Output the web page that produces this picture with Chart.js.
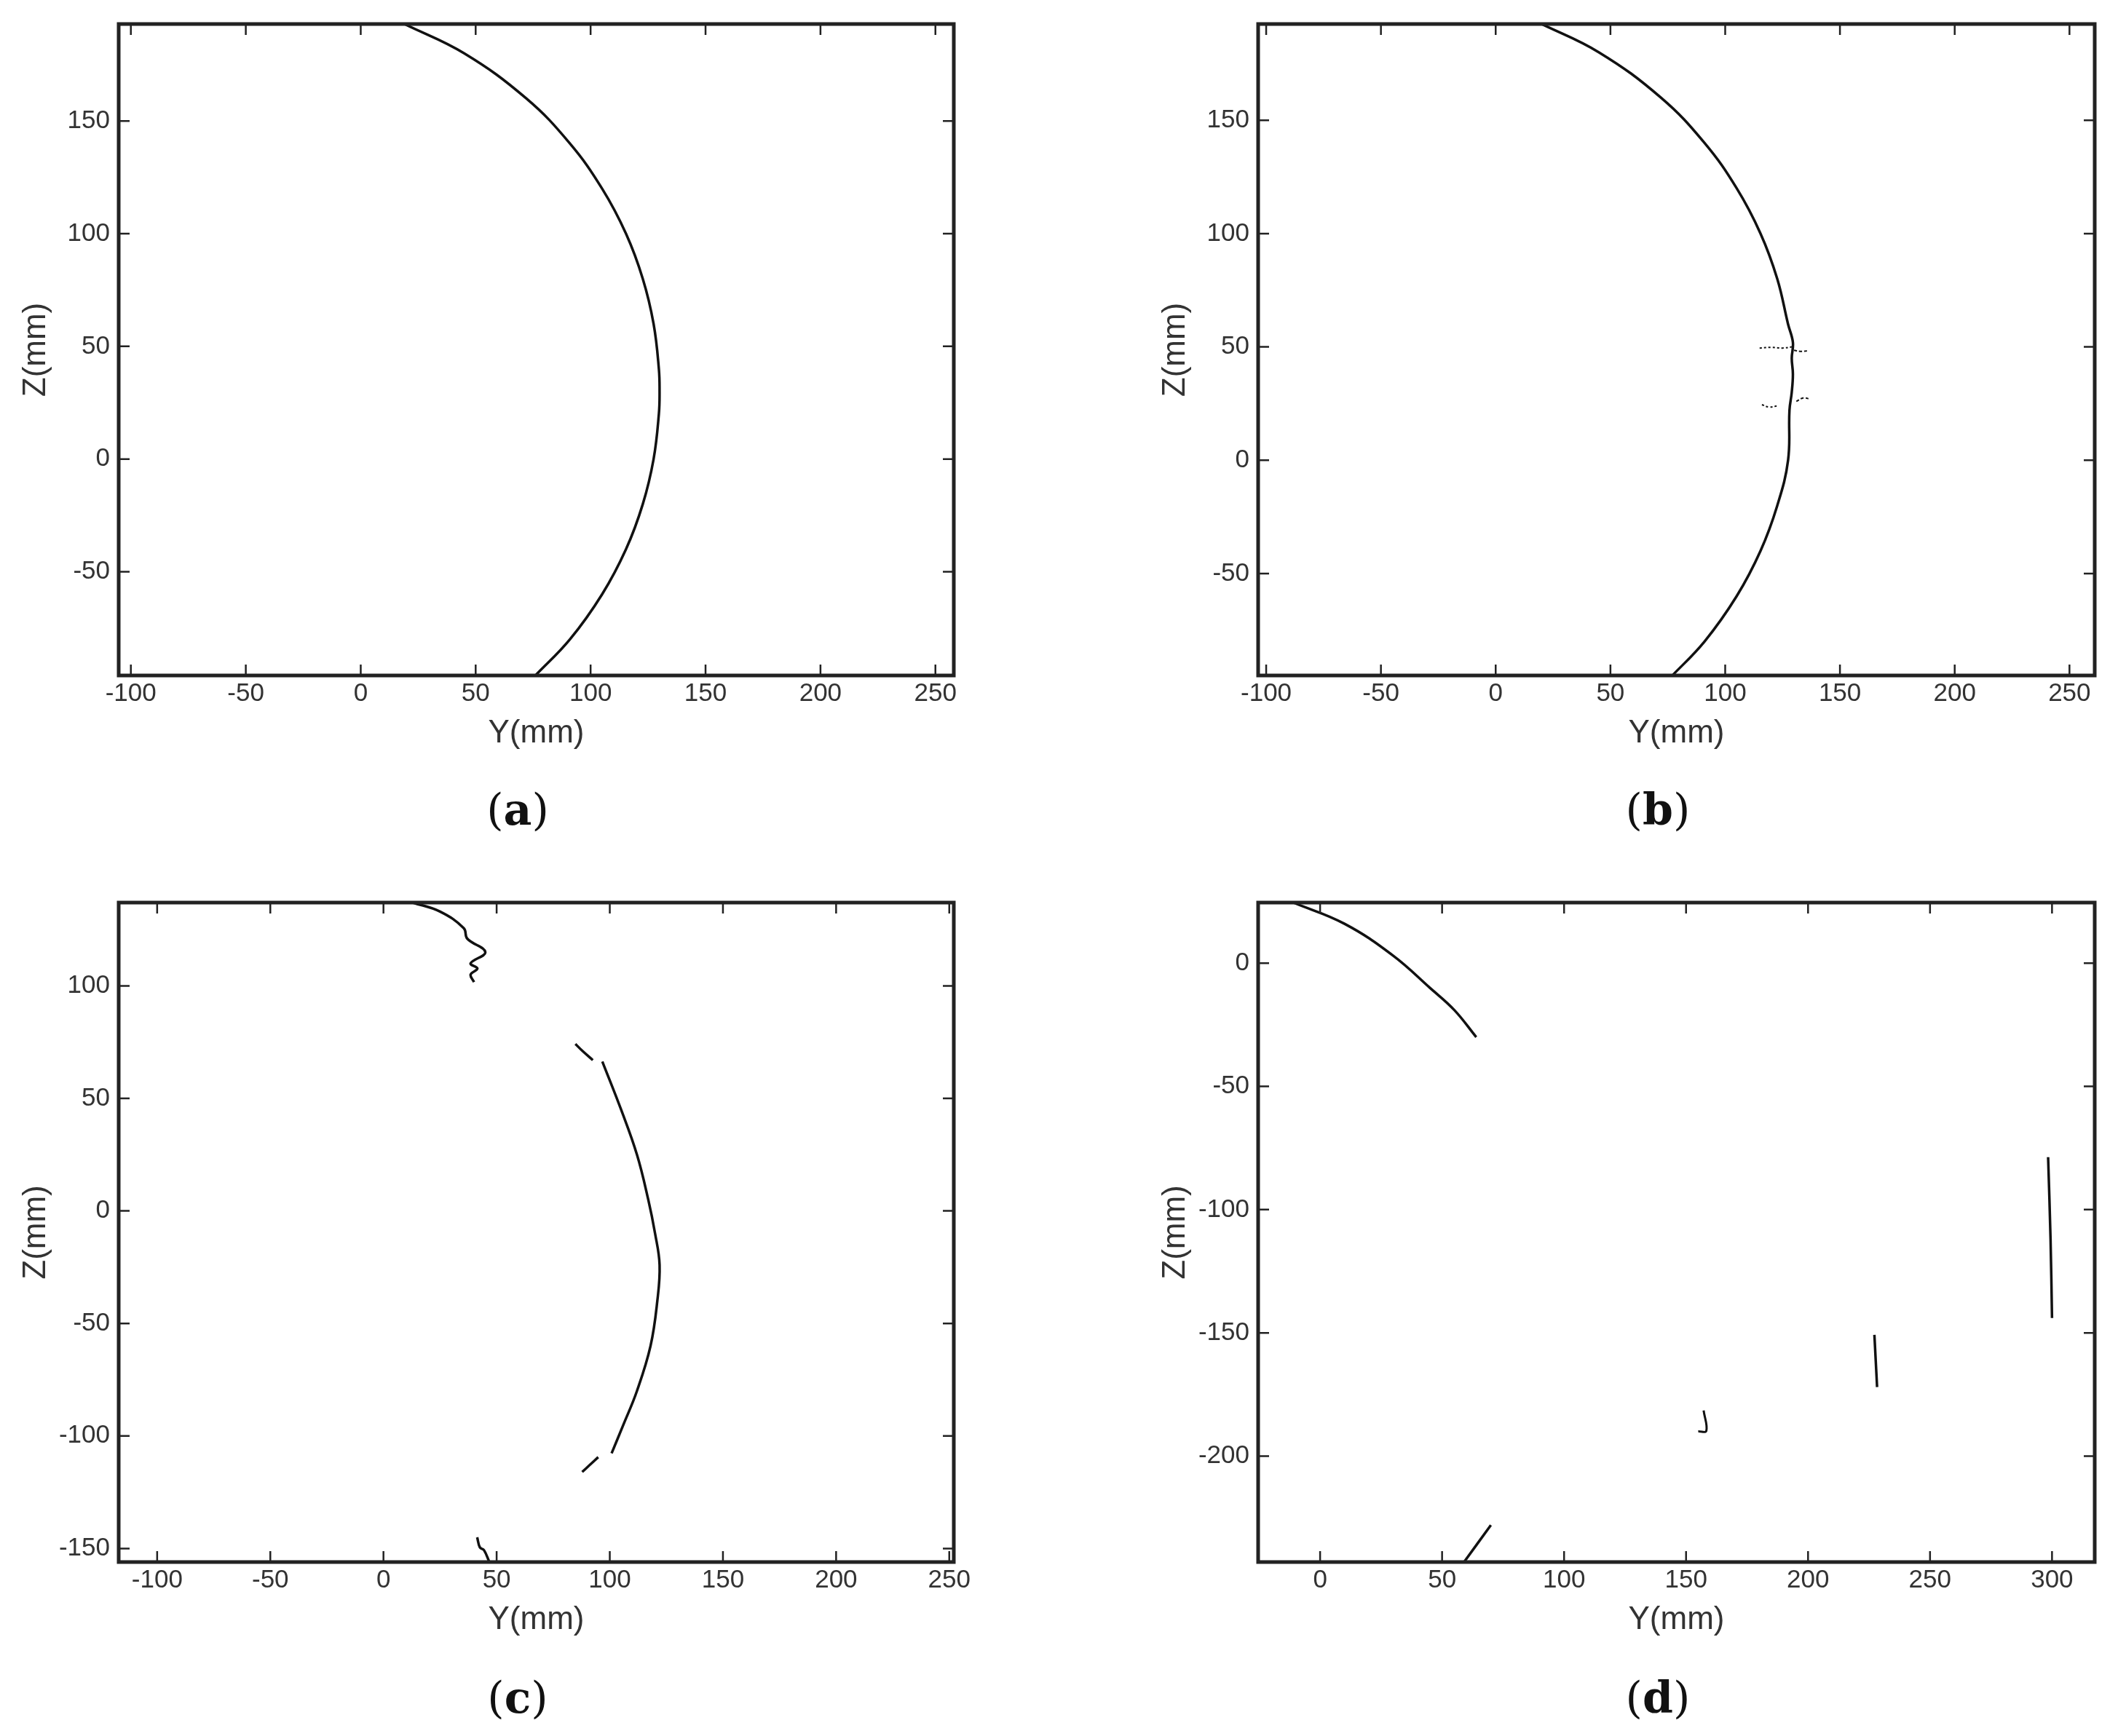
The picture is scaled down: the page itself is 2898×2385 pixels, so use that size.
<!DOCTYPE html>
<html>
<head>
<meta charset="utf-8">
<script src="https://cdn.jsdelivr.net/npm/chart.js@4.4.1/dist/chart.umd.min.js"></script>
<style>
  body { margin: 0; background: #fff; width: 2898px; height: 2385px; position: relative; overflow: hidden; }
  .quad { position: absolute; width: 1449px; height: 1192px; }
  .cap { position: absolute; font-family: "DejaVu Serif", "Liberation Serif", serif; font-size: 60px; color: #111; transform: translate(-50%, -50%); }
  .cap b { font-weight: bold; }
</style>
</head>
<body>
<div class="quad" style="left:0;top:0"><canvas id="pa"></canvas></div>
<div class="quad" style="left:1449px;top:0"><canvas id="pb"></canvas></div>
<div class="quad" style="left:0;top:1192px"><canvas id="pc"></canvas></div>
<div class="quad" style="left:1449px;top:1192px"><canvas id="pd"></canvas></div>
<div class="cap" style="left:711px;top:1112px">(<b>a</b>)</div>
<div class="cap" style="left:2277px;top:1112px">(<b>b</b>)</div>
<div class="cap" style="left:711px;top:2332px">(<b>c</b>)</div>
<div class="cap" style="left:2277px;top:2332px">(<b>d</b>)</div>
<script>
// --- Tick labels ---
const ticksAB_Y = [-100, -50, 0, 50, 100, 150, 200, 250];
const ticksAB_Z = [-50, 0, 50, 100, 150];
const ticksC_Y = [-100, -50, 0, 50, 100, 150, 200, 250];
const ticksC_Z = [-150, -100, -50, 0, 50, 100];
const ticksD_Y = [0, 50, 100, 150, 200, 250, 300];
const ticksD_Z = [-200, -150, -100, -50, 0];

// --- Data (Y, Z in mm) ---
const arcA_Y = [19, 45, 72, 91, 105, 115.4, 122.7, 127.4, 129.7, 130, 129.7, 127.4, 122.7, 115.4, 105, 91, 76];
const arcA_Z = [193, 180, 160, 140, 120, 100, 80, 60, 40, 30, 20, 0, -20, -40, -60, -80, -96];

const arcB_Y = [19, 45, 72, 91, 105, 115.4, 122.7, 127.4, 129.5, 129, 129.5, 129, 128, 127.4, 122.7, 115.4, 105, 91, 76];
const arcB_Z = [193, 180, 160, 140, 120, 100, 80, 60, 52, 45, 38, 30, 22, 0, -20, -40, -60, -80, -96];
const markB1_Y = [115, 120, 125, 129];
const markB1_Z = [49.5, 49.8, 49.5, 50];
const markB2_Y = [130, 133, 136];
const markB2_Z = [48.5, 48, 48.3];
const markB3_Y = [116, 119, 123];
const markB3_Z = [24.5, 23.5, 24];
const markB4_Y = [131, 134, 137];
const markB4_Z = [26, 27.5, 27];

const topC_Y = [12.9, 25, 35.5, 37, 45, 38.5, 41.5, 38.5, 40];
const topC_Z = [137, 133, 125.6, 121, 115, 110, 107.7, 105, 101.7];
const arcC1_Y = [84.8, 88, 92.5];
const arcC1_Z = [74.2, 71, 67];
const arcC2_Y = [96.7, 105, 112, 117, 120, 122, 121, 118, 112, 106, 100.8];
const arcC2_Z = [66.4, 45, 25, 5, -10, -24, -40, -60, -80, -95, -107.7];
const arcC3_Y = [94.9, 91, 87.8];
const arcC3_Z = [-109.4, -113, -116];
const botC_Y = [41.4, 42.6, 44.4, 46.8];
const botC_Z = [-145, -149.5, -150.7, -156];

const arcD1_Y = [-11, 10, 30, 45, 55, 64];
const arcD1_Z = [24.6, 16, 3, -10, -19, -30];
const arcD2_Y = [59, 70];
const arcD2_Z = [-243, -228];
const segD1_Y = [157.2, 158.3, 155];
const segD1_Z = [-181.5, -189.8, -190];
const segD2_Y = [227.2, 228.3];
const segD2_Z = [-150.8, -172];
const segD3_Y = [298.4, 299.4, 300];
const segD3_Z = [-78.7, -112, -144];

const toPts = (ys, zs) => ys.map((y, i) => ({ x: y, y: zs[i] }));

// inward tick marks on all four sides + frame
const frameTicks = {
  id: 'frameTicks',
  afterDraw(chart) {
    const { ctx, chartArea: a, scales } = chart;
    ctx.save();
    ctx.strokeStyle = '#222';
    ctx.lineWidth = 2.5;
    const len = 15;
    scales.x.ticks.forEach(t => {
      const px = scales.x.getPixelForValue(t.value);
      ctx.beginPath();
      ctx.moveTo(px, a.bottom); ctx.lineTo(px, a.bottom - len);
      ctx.moveTo(px, a.top); ctx.lineTo(px, a.top + len);
      ctx.stroke();
    });
    scales.y.ticks.forEach(t => {
      const py = scales.y.getPixelForValue(t.value);
      ctx.beginPath();
      ctx.moveTo(a.left, py); ctx.lineTo(a.left + len, py);
      ctx.moveTo(a.right, py); ctx.lineTo(a.right - len, py);
      ctx.stroke();
    });
    ctx.lineWidth = 5;
    ctx.strokeRect(a.left, a.top, a.right - a.left, a.bottom - a.top);
    ctx.restore();
  }
};

function makePanel(id, series, xr, yr, xt, yt, pad) {
  const tickFont = { family: 'Liberation Sans, Arial, sans-serif', size: 35 };
  const titleFont = { family: 'Liberation Sans, Arial, sans-serif', size: 44 };
  new Chart(document.getElementById(id), {
    type: 'scatter',
    data: {
      datasets: series.map(s => ({
        data: toPts(s[0], s[1]),
        showLine: true,
        borderColor: '#111',
        borderWidth: s[2] || 3.5,
        pointRadius: 0,
        tension: 0.4,
        borderDash: s[3] || []
      }))
    },
    options: {
      responsive: false,
      animation: false,
      devicePixelRatio: 1,
      layout: { padding: pad },
      plugins: { legend: { display: false }, tooltip: { enabled: false } },
      scales: {
        x: {
          type: 'linear', min: xr[0], max: xr[1],
          ticks: { color: '#333', font: tickFont, padding: 4, maxRotation: 0, autoSkip: false },
          afterBuildTicks: s => { s.ticks = xt.map(v => ({ value: v })); },
          afterFit: s => { s.height = 106; },
          grid: { display: false, drawTicks: false },
          border: { display: false },
          title: { display: true, text: 'Y(mm)', color: '#333', font: titleFont, padding: 0 }
        },
        y: {
          type: 'linear', min: yr[0], max: yr[1],
          ticks: { color: '#333', font: tickFont, padding: 12, autoSkip: false },
          afterBuildTicks: s => { s.ticks = yt.map(v => ({ value: v })); },
          afterFit: s => { s.width = 140; },
          grid: { display: false, drawTicks: false },
          border: { display: false },
          title: { display: true, text: 'Z(mm)', color: '#333', font: titleFont, padding: 0 }
        }
      }
    },
    plugins: [frameTicks]
  });
}

['pa', 'pb', 'pc', 'pd'].forEach(id => {
  const c = document.getElementById(id);
  c.width = 1449; c.height = 1192;
});

makePanel('pa', [[arcA_Y, arcA_Z]], [-105.3, 258], [-96, 193], ticksAB_Y, ticksAB_Z,
  { left: 23, right: 139, top: 22, bottom: 158 });
makePanel('pb', [[arcB_Y, arcB_Z], [markB1_Y, markB1_Z, 2, [3, 3]], [markB2_Y, markB2_Z, 2, [4, 3]],
  [markB3_Y, markB3_Z, 2, [3, 3]], [markB4_Y, markB4_Z, 2, [4, 3]]], [-103.5, 261], [-95, 192.5],
  ticksAB_Y, ticksAB_Z, { left: 139, right: 21, top: 22, bottom: 158 });
makePanel('pc', [[topC_Y, topC_Z], [arcC1_Y, arcC1_Z], [arcC2_Y, arcC2_Z], [arcC3_Y, arcC3_Z], [botC_Y, botC_Z]],
  [-117, 252], [-156, 137], ticksC_Y, ticksC_Z, { left: 23, right: 139, top: 48, bottom: 132 });
makePanel('pd', [[arcD1_Y, arcD1_Z], [arcD2_Y, arcD2_Z], [segD1_Y, segD1_Z, 3, []], [segD2_Y, segD2_Z], [segD3_Y, segD3_Z]],
  [-25.4, 317.5], [-243, 24.6], ticksD_Y, ticksD_Z, { left: 139, right: 21, top: 48, bottom: 132 });
</script>
</body>
</html>
